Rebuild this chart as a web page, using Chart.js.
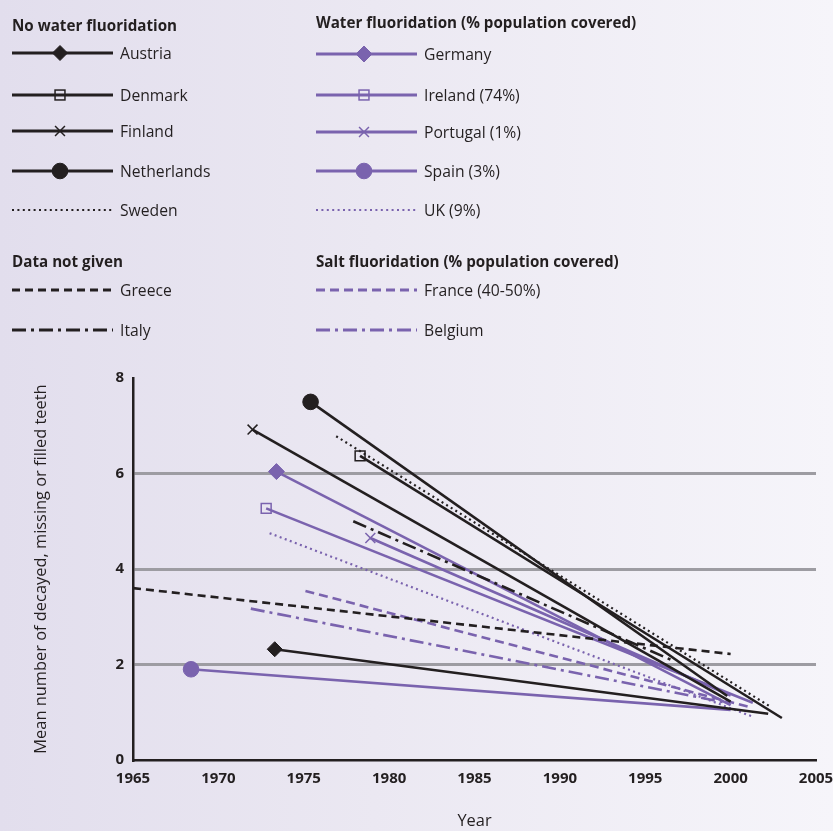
<!DOCTYPE html>
<html>
<head>
<meta charset="utf-8">
<script src="https://cdn.jsdelivr.net/npm/chart.js@4.4.1/dist/chart.umd.min.js"></script>
<style>
  body {
    margin: 0;
    width: 833px;
    height: 831px;
    overflow: hidden;
    position: relative;
    background: linear-gradient(to right, #e2deed 0%, #ebe8f2 45%, #f6f5fa 100%);
    font-family: "Open Sans", "Noto Sans", sans-serif;
    color: #231f20;
  }
  #chart { position: absolute; left: 0; top: 0; }
  .title { position: absolute; font-weight: bold; font-size: 15.2px; line-height: 20px; white-space: nowrap; }
  .row { position: absolute; height: 24px; white-space: nowrap; }
  .row svg { position: absolute; left: 0; top: 0; }
  .row span { position: absolute; top: 0px; font-size: 15.7px; line-height: 24px; }
</style>
</head>
<body>
<canvas id="chart" width="833" height="831"></canvas>
<div id="legend"></div>
<script>
// Countries, in legend order
const countries = ['Austria', 'Denmark', 'Finland', 'Netherlands', 'Sweden', 'Greece', 'Italy',
                   'Germany', 'Ireland', 'Portugal', 'Spain', 'UK', 'France', 'Belgium'];
const legendLabels = ['Austria', 'Denmark', 'Finland', 'Netherlands', 'Sweden', 'Greece', 'Italy',
                      'Germany', 'Ireland (74%)', 'Portugal (1%)', 'Spain (3%)', 'UK (9%)', 'France (40-50%)', 'Belgium'];

// first survey year / value, latest survey year / value (DMFT at age 12)
const startYears  = [1973.3, 1978.3, 1972.0, 1975.4, 1976.9, 1965.0, 1977.9, 1973.4, 1972.8, 1978.9, 1968.4, 1973.0, 1975.1, 1971.9];
const startValues = [2.32, 6.37, 6.92, 7.5, 6.78, 3.6, 5.0, 6.04, 5.27, 4.65, 1.9, 4.75, 3.54, 3.17];
const endYears    = [2002.2, 2003.0, 2000.0, 1999.8, 2002.4, 2000.0, 1996.5, 2000.0, 2001.3, 2000.0, 2000.0, 2001.2, 2001.2, 2000.0];
const endValues   = [0.97, 0.88, 1.22, 1.34, 1.1, 2.22, 2.1, 1.15, 1.2, 1.35, 1.05, 0.92, 1.1, 1.18];

const groupTitles = ['No water fluoridation', 'Data not given',
                     'Water fluoridation (% population covered)', 'Salt fluoridation (% population covered)'];

const xTicks = [1965, 1970, 1975, 1980, 1985, 1990, 1995, 2000, 2005];
const yTicks = [0, 2, 4, 6, 8];

const BLACK = '#231f20';
const PURPLE = '#7a63ae';
const GRID = '#9d9ca2';

// line / marker look per country
const styles = {
  Austria:     { color: BLACK,  dash: [],           marker: 'rectRot',  r: 7.5, fill: true },
  Denmark:     { color: BLACK,  dash: [],           marker: 'rect',     r: 7,   fill: false },
  Finland:     { color: BLACK,  dash: [],           marker: 'crossRot', r: 7,   fill: false },
  Netherlands: { color: BLACK,  dash: [],           marker: 'circle',   r: 7.8, fill: true },
  Sweden:      { color: BLACK,  dash: [2, 3.4],     marker: null, width: 2.2 },
  Greece:      { color: BLACK,  dash: [8, 5] },
  Italy:       { color: BLACK,  dash: [14, 5, 3, 5] },
  Germany:     { color: PURPLE, dash: [],           marker: 'rectRot',  r: 8,   fill: true },
  Ireland:     { color: PURPLE, dash: [],           marker: 'rect',     r: 7,   fill: false },
  Portugal:    { color: PURPLE, dash: [],           marker: 'crossRot', r: 7,   fill: false },
  Spain:       { color: PURPLE, dash: [],           marker: 'circle',   r: 7.8, fill: true },
  UK:          { color: PURPLE, dash: [2, 3.4],     marker: null, width: 2.2 },
  France:      { color: PURPLE, dash: [9, 5] },
  Belgium:     { color: PURPLE, dash: [14, 5, 3, 5] }
};

const datasets = countries.map((name, i) => {
  const s = styles[name];
  return {
    label: legendLabels[i],
    data: [{ x: startYears[i], y: startValues[i] }, { x: endYears[i], y: endValues[i] }],
    showLine: true,
    borderColor: s.color,
    borderWidth: s.width || 2.6,
    borderDash: s.dash,
    pointStyle: s.marker || 'circle',
    pointRadius: s.marker ? [s.r, 0] : 0,
    pointBackgroundColor: s.fill ? s.color : 'rgba(0,0,0,0)',
    pointBorderColor: s.color,
    pointBorderWidth: s.fill ? 1 : 1.5,
    pointHoverRadius: 0
  };
});

new Chart(document.getElementById('chart'), {
  type: 'scatter',
  data: { datasets: datasets },
  options: {
    responsive: false,
    animation: false,
    events: [],
    layout: { padding: { top: 378, right: 17, bottom: 0, left: 0 } },
    plugins: { legend: { display: false }, tooltip: { enabled: false } },
    scales: {
      x: {
        type: 'linear',
        min: 1965,
        max: 2005,
        afterBuildTicks: axis => { axis.ticks = xTicks.map(v => ({ value: v })); },
        afterFit: axis => {
          axis.height = 71;
          axis.paddingLeft = 0;
          axis.paddingRight = 0;
        },
        grid: { display: false, drawTicks: false },
        border: { color: BLACK, width: 2.5 },
        ticks: {
          padding: 10,
          color: BLACK,
          maxRotation: 0,
          font: { family: 'Open Sans', size: 15, weight: 700 },
          callback: v => String(v)
        },
        title: {
          display: true,
          text: 'Year',
          color: BLACK,
          padding: { top: 0, bottom: 0 },
          font: { family: 'Open Sans', size: 16.4 }
        }
      },
      y: {
        min: 0,
        max: 8,
        afterBuildTicks: axis => { axis.ticks = yTicks.map(v => ({ value: v })); },
        afterFit: axis => { axis.width = 133; },
        grid: {
          drawTicks: false,
          lineWidth: 3,
          color: c => (c.tick && [2, 4, 6].includes(c.tick.value)) ? GRID : 'rgba(0,0,0,0)'
        },
        border: { color: BLACK, width: 2.5 },
        ticks: {
          padding: 9,
          color: BLACK,
          font: { family: 'Open Sans', size: 15, weight: 700 }
        },
        title: {
          display: true,
          text: 'Mean number of decayed, missing or filled teeth',
          color: BLACK,
          padding: { top: 31, bottom: 0 },
          font: { family: 'Open Sans', size: 16.4 }
        }
      }
    }
  }
});

// ---- legend (HTML text + small svg line samples) ----
function markerSvg(s, cx, cy) {
  if (!s.marker) return '';
  const fill = s.fill ? s.color : 'none';
  const sw = s.fill ? 1 : 1.5;
  if (s.marker === 'circle') {
    return `<circle cx="${cx}" cy="${cy}" r="${s.r}" fill="${fill}" stroke="${s.color}" stroke-width="${sw}"/>`;
  }
  if (s.marker === 'rectRot') {
    const r = s.r;
    return `<polygon points="${cx},${cy - r} ${cx + r},${cy} ${cx},${cy + r} ${cx - r},${cy}" fill="${fill}" stroke="${s.color}" stroke-width="${sw}"/>`;
  }
  if (s.marker === 'rect') {
    const h = s.r * Math.SQRT1_2;
    return `<rect x="${cx - h}" y="${cy - h}" width="${2 * h}" height="${2 * h}" fill="${fill}" stroke="${s.color}" stroke-width="${sw}"/>`;
  }
  if (s.marker === 'crossRot') {
    const h = s.r * Math.SQRT1_2;
    return `<path d="M${cx - h},${cy - h}L${cx + h},${cy + h}M${cx - h},${cy + h}L${cx + h},${cy - h}" stroke="${s.color}" stroke-width="1.5"/>`;
  }
  return '';
}

const legend = document.getElementById('legend');

function addTitle(text, x, y) {
  const d = document.createElement('div');
  d.className = 'title';
  d.style.left = x + 'px';
  d.style.top = (y - 10) + 'px';
  d.textContent = text;
  legend.appendChild(d);
}

function addRow(idx, x, y) {
  const s = styles[countries[idx]];
  const d = document.createElement('div');
  d.className = 'row';
  d.style.left = x + 'px';
  d.style.top = (y - 12) + 'px';
  const dash = s.dash.length ? `stroke-dasharray="${s.dash.join(',')}"` : '';
  d.innerHTML =
    `<svg width="104" height="24">` +
    `<line x1="0" y1="12" x2="101" y2="12" stroke="${s.color}" stroke-width="${s.width || 2.8}" ${dash}/>` +
    markerSvg(s, 48, 12) +
    `</svg><span style="left:108px">${legendLabels[idx]}</span>`;
  legend.appendChild(d);
}

addTitle(groupTitles[0], 12, 25);
[53, 95, 131, 171, 210].forEach((y, k) => addRow(k, 12, y));
addTitle(groupTitles[1], 12, 261);
addRow(5, 12, 290);
addRow(6, 12, 330);

addTitle(groupTitles[2], 316, 22);
[54, 95, 132, 171, 210].forEach((y, k) => addRow(7 + k, 316, y));
addTitle(groupTitles[3], 316, 261);
addRow(12, 316, 290);
addRow(13, 316, 330);
</script>
</body>
</html>
